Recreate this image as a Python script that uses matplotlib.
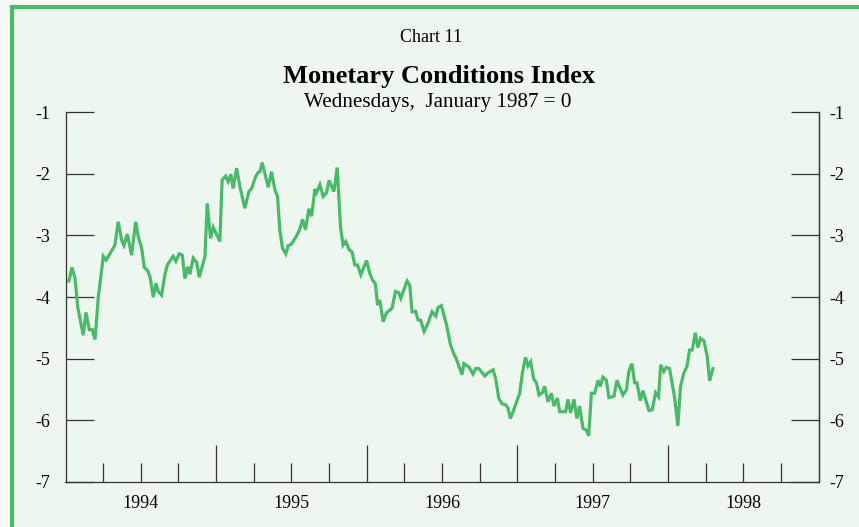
import numpy as np
import matplotlib
matplotlib.use('Agg')
import matplotlib.pyplot as plt
from matplotlib.patches import Rectangle
from matplotlib.ticker import FixedLocator

plt.rcParams['font.family'] = ['Liberation Serif', 'DejaVu Serif']

# weekly readings, time in years, index value (January 1987 = 0)
t = [1994.023, 1994.043, 1994.063, 1994.081, 1994.118, 1994.136, 1994.158, 1994.178, 1994.196, 1994.218,
     1994.251, 1994.269, 1994.295, 1994.328, 1994.350, 1994.373, 1994.388, 1994.410, 1994.439, 1994.466,
     1994.483, 1994.506, 1994.523, 1994.545, 1994.561, 1994.583, 1994.601, 1994.616, 1994.638, 1994.660,
     1994.676, 1994.715, 1994.733, 1994.755, 1994.775, 1994.793, 1994.811, 1994.826, 1994.848, 1994.871,
     1994.888, 1994.926, 1994.941, 1994.963, 1994.981, 1995.025, 1995.040, 1995.063, 1995.080, 1995.098,
     1995.113, 1995.136, 1995.158, 1995.191, 1995.218, 1995.236, 1995.262, 1995.279, 1995.291, 1995.306,
     1995.346, 1995.368, 1995.390, 1995.408, 1995.423, 1995.441, 1995.463, 1995.478, 1995.501, 1995.534,
     1995.556, 1995.574, 1995.594, 1995.616, 1995.634, 1995.656, 1995.667, 1995.689, 1995.711, 1995.733,
     1995.750, 1995.782, 1995.804, 1995.826, 1995.843, 1995.861, 1995.883, 1995.903, 1995.921, 1995.939,
     1995.961, 1995.999, 1996.021, 1996.038, 1996.058, 1996.072, 1996.087, 1996.109, 1996.131, 1996.169,
     1996.191, 1996.213, 1996.226, 1996.268, 1996.286, 1996.301, 1996.324, 1996.341, 1996.359, 1996.381,
     1996.403, 1996.434, 1996.459, 1996.474, 1996.496, 1996.530, 1996.556, 1996.573, 1996.596, 1996.633,
     1996.646, 1996.680, 1996.706, 1996.724, 1996.744, 1996.784, 1996.806, 1996.839, 1996.857, 1996.877,
     1996.898, 1996.923, 1996.938, 1996.954, 1996.978, 1997.016, 1997.034, 1997.054, 1997.071, 1997.089,
     1997.109, 1997.127, 1997.144, 1997.167, 1997.182, 1997.204, 1997.226, 1997.244, 1997.266, 1997.281,
     1997.321, 1997.336, 1997.354, 1997.376, 1997.396, 1997.414, 1997.436, 1997.459, 1997.474, 1997.492,
     1997.514, 1997.536, 1997.551, 1997.569, 1997.591, 1997.608, 1997.642, 1997.662, 1997.701, 1997.724,
     1997.741, 1997.761, 1997.779, 1997.794, 1997.817, 1997.834, 1997.874, 1997.896, 1997.918, 1997.938,
     1997.952, 1997.973, 1997.989, 1998.011, 1998.044, 1998.066, 1998.084, 1998.106, 1998.126, 1998.144,
     1998.162, 1998.182, 1998.199, 1998.217, 1998.239, 1998.261, 1998.277, 1998.299]
mci = [-3.74, -3.52, -3.69, -4.16, -4.62, -4.25, -4.53, -4.53, -4.69, -4.00,
       -3.34, -3.40, -3.30, -3.16, -2.78, -3.08, -3.16, -2.98, -3.32, -2.78,
       -3.02, -3.21, -3.52, -3.57, -3.67, -4.00, -3.78, -3.91, -3.97, -3.64,
       -3.48, -3.34, -3.42, -3.30, -3.32, -3.70, -3.51, -3.63, -3.37, -3.44,
       -3.68, -3.34, -2.48, -3.05, -2.87, -3.10, -2.10, -2.04, -2.13, -2.01,
       -2.24, -1.91, -2.21, -2.56, -2.29, -2.24, -2.05, -1.98, -1.97, -1.82,
       -2.22, -1.97, -2.26, -2.37, -2.91, -3.21, -3.30, -3.17, -3.14, -3.01,
       -2.90, -2.74, -2.91, -2.57, -2.69, -2.25, -2.31, -2.18, -2.37, -2.31,
       -2.11, -2.29, -1.90, -2.86, -3.16, -3.10, -3.23, -3.27, -3.48, -3.48,
       -3.64, -3.41, -3.62, -3.72, -3.79, -4.13, -4.05, -4.40, -4.26, -4.18,
       -3.91, -3.93, -4.02, -3.74, -3.81, -4.24, -4.23, -4.37, -4.38, -4.56,
       -4.45, -4.24, -4.31, -4.17, -4.14, -4.45, -4.77, -4.89, -5.01, -5.26,
       -5.08, -5.14, -5.25, -5.16, -5.16, -5.28, -5.23, -5.18, -5.33, -5.64,
       -5.73, -5.75, -5.80, -5.97, -5.82, -5.56, -5.23, -4.98, -5.12, -5.05,
       -5.33, -5.39, -5.59, -5.55, -5.45, -5.70, -5.56, -5.77, -5.64, -5.86,
       -5.86, -5.66, -5.88, -5.66, -5.97, -5.77, -6.13, -6.16, -6.25, -5.56,
       -5.56, -5.35, -5.45, -5.30, -5.35, -5.63, -5.61, -5.35, -5.59, -5.51,
       -5.20, -5.08, -5.39, -5.39, -5.68, -5.52, -5.84, -5.83, -5.55, -5.62,
       -5.10, -5.21, -5.14, -5.16, -5.62, -6.09, -5.45, -5.23, -5.13, -4.86,
       -4.86, -4.58, -4.82, -4.67, -4.71, -4.96, -5.36, -5.16]

years = [1994, 1995, 1996, 1997, 1998]
yticks = [-1, -2, -3, -4, -5, -6, -7]

green = '#4bb96a'
bg = '#edf7f0'
axc = '#333333'

fig = plt.figure(figsize=(8.59, 5.27), dpi=100)
fig.patch.set_facecolor('#f4faf6')
# panel with green frame (only top and left edges inside the picture)
fig.patches.append(Rectangle((12 / 859, -0.05), 1.1, 1 - 7 / 527 + 0.05,
                             transform=fig.transFigure, facecolor=bg,
                             edgecolor=green, linewidth=3, zorder=-1))

ax = fig.add_axes([65.5 / 859, 1 - 482 / 527, 753 / 859, 370 / 527])
ax.set_zorder(2)
ax.set_facecolor('none')
ax.plot(t, mci, color=green, linewidth=2.3, solid_joinstyle='miter')

ax.set_xlim(1994, 1999)
ax.set_ylim(-7, -1)

for s in ['left', 'right', 'bottom']:
    ax.spines[s].set_color(axc)
    ax.spines[s].set_linewidth(0.9)
ax.spines['top'].set_visible(False)

# y axis: same ticks on both sides, drawn inward
ax.set_yticks(yticks)
ax.set_yticklabels([str(v) for v in yticks])
ax.tick_params(axis='y', which='major', direction='in', length=20, width=0.9,
               color=axc, labelsize=13, pad=11)

ax2 = ax.twinx()
ax2.set_ylim(-7, -1)
ax2.set_yticks(yticks)
ax2.set_yticklabels([str(v) for v in yticks])
for s in ['left', 'top', 'bottom']:
    ax2.spines[s].set_visible(False)
ax2.spines['right'].set_color(axc)
ax2.spines['right'].set_linewidth(0.9)
ax2.tick_params(axis='y', which='major', direction='in', length=20, width=0.9,
                color=axc, labelsize=13, pad=8)

# x axis: long ticks at year boundaries, short ticks at quarters, labels mid-year
ax.xaxis.set_major_locator(FixedLocator([y for y in years[1:]]))
ax.xaxis.set_minor_locator(FixedLocator([y + q for y in years for q in (0.25, 0.5, 0.75)]))
ax.set_xticklabels([])
ax.set_xticklabels([str(y) if q == 0.5 else '' for y in years for q in (0.25, 0.5, 0.75)],
                   minor=True)
ax.tick_params(axis='x', which='major', direction='in', length=27, width=0.9, color=axc)
ax.tick_params(axis='x', which='minor', direction='in', length=13.5, width=0.9, color=axc,
               labelsize=13, pad=9)

fig.text(431 / 859, 1 - 38 / 527, 'Chart 11', ha='center', va='center', fontsize=13)
fig.text(439.5 / 859, 1 - 77 / 527, 'Monetary Conditions Index', ha='center', va='center',
         fontsize=19, fontweight='bold')
fig.text(438 / 859, 1 - 103 / 527, 'Wednesdays,  January 1987 = 0', ha='center', va='center',
         fontsize=15.2)

fig.savefig('out.png', dpi=100, facecolor=fig.get_facecolor())
